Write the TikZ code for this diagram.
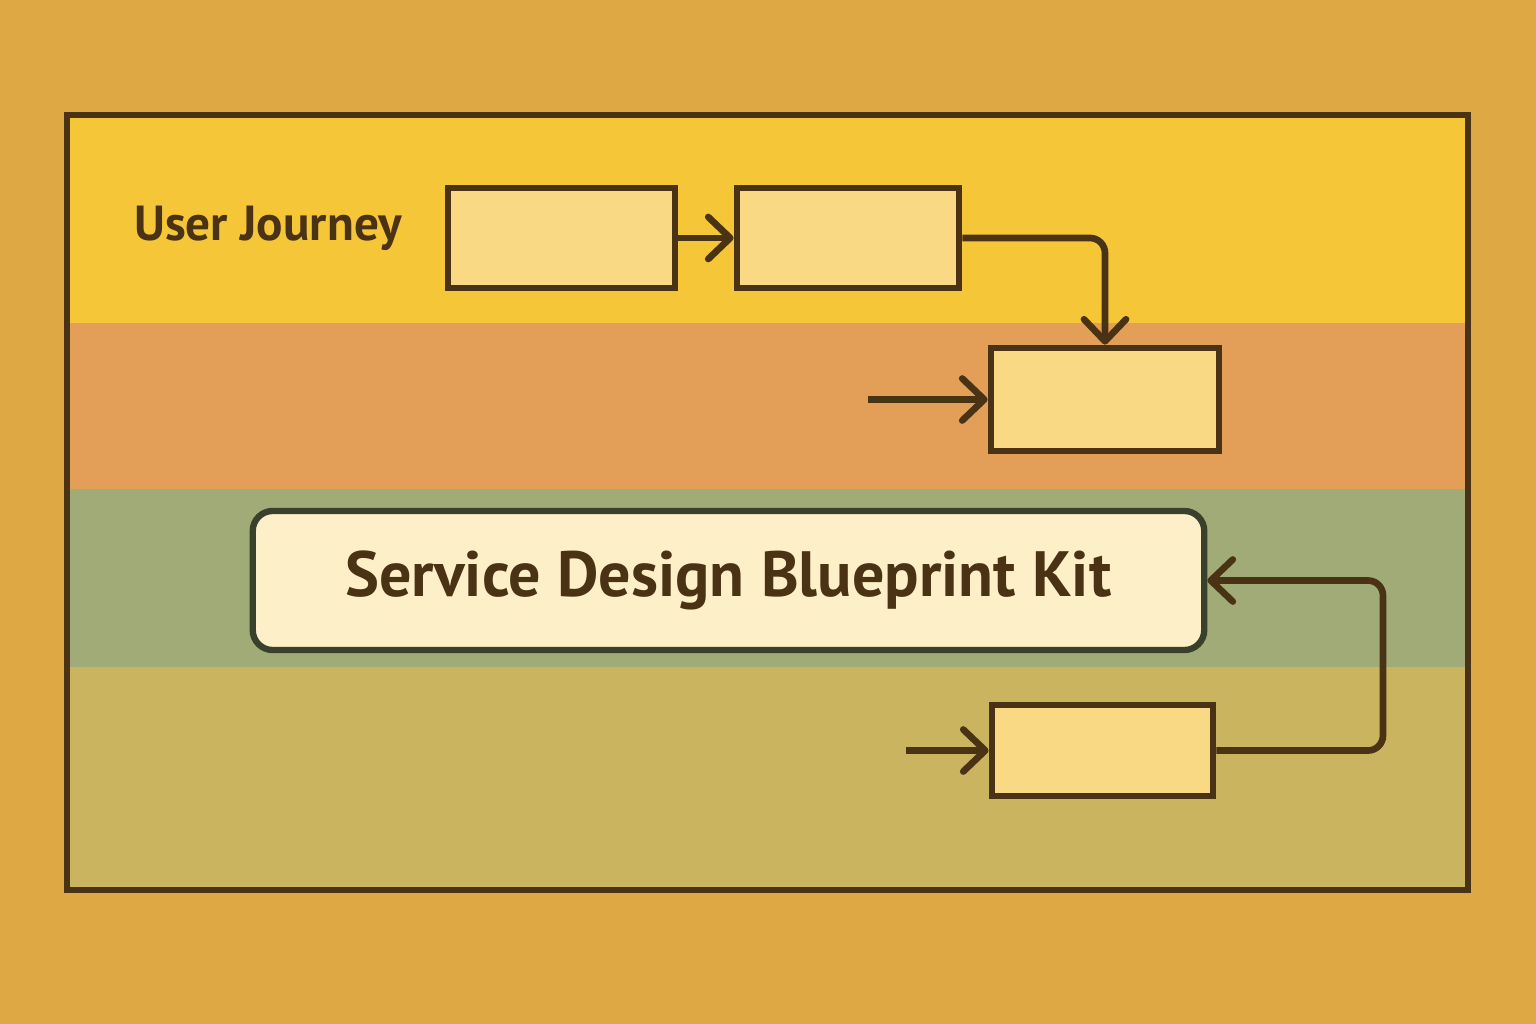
\documentclass[tikz,border=0pt]{standalone}
\usepackage{fontspec}
\setmainfont{PT Sans}
\usetikzlibrary{arrows.meta,positioning}
\definecolor{backgr}{HTML}{DEA945}
\definecolor{laneone}{HTML}{F6C639}
\definecolor{lanetwo}{HTML}{E39E57}
\definecolor{lanethree}{HTML}{A1AB78}
\definecolor{lanefour}{HTML}{CAB460}
\definecolor{boxfill}{HTML}{FAD985}
\definecolor{titlefill}{HTML}{FDEFC8}
\definecolor{ink}{HTML}{4A3214}
\definecolor{titleline}{HTML}{39412C}
\begin{document}
\begin{tikzpicture}[x=0.01cm,y=-0.01cm,
        stepbox/.style={draw=ink, fill=boxfill, line width=1.9pt, inner sep=0pt},
        flow/.style={draw=ink, line width=1.9pt, rounded corners=0.15cm,
          -{Straight Barb[length=2.2mm, width=4.2mm, line cap=round, line join=round]}}]
        \fill[backgr] (0,0) rectangle (1536,1024);
        \useasboundingbox (0,0) rectangle (1536,1024);
        % lanes
        \fill[laneone] (67,115) rectangle (1468,323);
        \fill[lanetwo] (67,323) rectangle (1468,489);
        \fill[lanethree] (67,489) rectangle (1468,667);
        \fill[lanefour] (67,667) rectangle (1468,890);
        \draw[ink, line width=1.6pt] (67,115) rectangle (1468,890);
        \node (lbl) at (268,228) {\fontsize{14}{16}\selectfont\bfseries\color{ink}User Journey};
        % steps
        \node[stepbox, minimum width=2.27cm, minimum height=1.00cm] (a) at (561.5,238) {};
        \node[stepbox, minimum width=2.22cm, minimum height=1.00cm] (b) at (848,238) {};
        \node[stepbox, minimum width=2.28cm, minimum height=1.03cm] (c) at (1105,399.5) {};
        \node[stepbox, minimum width=2.21cm, minimum height=0.91cm] (d) at (1102.5,750.5) {};
        \node[draw=titleline, fill=titlefill, line width=1.8pt, rounded corners=0.2cm,
          minimum width=9.51cm, minimum height=1.39cm] (title) at (728.5,580.5)
          {\fontsize{18.2}{22}\selectfont\bfseries\color{ink}Service Design Blueprint Kit};
        \coordinate (inc) at (868,399.5);
        \coordinate (ind) at (906,750.5);
        \coordinate (loop) at (1383,750.5);
        % connectors
        \draw[flow] (a.east) -- (b.west);
        \draw[flow] (b.east) -| (c.north);
        \draw[flow] (inc) -- (c.west);
        \draw[flow] (ind) -- (d.west);
        \draw[flow] (d.east) -- (loop) |- (title.east);
\end{tikzpicture}
\end{document}
